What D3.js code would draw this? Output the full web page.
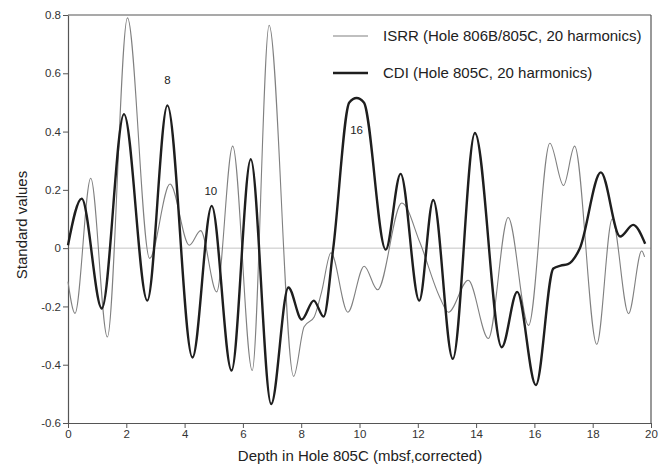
<!DOCTYPE html>
<html>
<head>
<meta charset="utf-8">
<script src="https://cdn.jsdelivr.net/npm/d3@7"></script>
<style>
  html, body { margin: 0; padding: 0; background: #fff; }
  svg { display: block; font-family: "Liberation Sans", Arial, Helvetica, sans-serif; }
</style>
</head>
<body>
<svg id="chart" width="672" height="466"></svg>
<script>
// ---- data ----
const isrrDepth = [0, 0.24, 0.78, 1.35, 2.04, 2.80, 3.50, 4.16, 4.55, 5.10, 5.65, 6.32, 6.90, 7.74, 8.10, 8.45, 8.70, 9.02, 9.60, 10.16, 10.62, 11.45, 12.07, 12.76, 13.05, 13.73, 14.42, 15.10, 15.80, 16.53, 17.00, 17.38, 18.14, 18.67, 19.23, 19.68, 19.78];
const isrrValue = [-0.115, -0.224, 0.24, -0.305, 0.79, -0.035, 0.22, 0.01, 0.06, -0.15, 0.35, -0.42, 0.765, -0.44, -0.27, -0.235, -0.15, -0.016, -0.22, -0.062, -0.143, 0.155, 0.02, -0.17, -0.22, -0.11, -0.31, 0.105, -0.265, 0.36, 0.215, 0.35, -0.33, 0.10, -0.225, -0.01, -0.03];

const cdiDepth = [0, 0.47, 1.16, 1.92, 2.72, 3.41, 4.27, 4.93, 5.61, 6.27, 6.97, 7.56, 8.02, 8.43, 8.77, 9.10, 9.65, 9.90, 10.15, 10.90, 11.41, 12.05, 12.53, 13.20, 13.96, 14.88, 15.41, 16.05, 16.65, 16.90, 17.15, 17.56, 18.28, 18.94, 19.39, 19.80];
const cdiValue = [0.01, 0.17, -0.207, 0.46, -0.18, 0.49, -0.375, 0.145, -0.42, 0.305, -0.535, -0.135, -0.245, -0.18, -0.235, 0.0, 0.50, 0.515, 0.50, -0.005, 0.255, -0.18, 0.165, -0.38, 0.395, -0.34, -0.15, -0.47, -0.07, -0.06, -0.055, 0.0, 0.26, 0.04, 0.08, 0.015];

const xTicks = [0, 2, 4, 6, 8, 10, 12, 14, 16, 18, 20];
const yTicks = [-0.6, -0.4, -0.2, 0, 0.2, 0.4, 0.6, 0.8];
const yTickLabels = ["-0.6", "-0.4", "-0.2", "0", "0.2", "0.4", "0.6", "0.8"];

const seriesNames = ["ISRR (Hole 806B/805C, 20 harmonics)", "CDI (Hole 805C, 20 harmonics)"];
const annotations = [
  { text: "8", depth: 3.41, value: 0.563 },
  { text: "10", depth: 4.9, value: 0.182 },
  { text: "16", depth: 9.9, value: 0.392 }
];

// ---- layout ----
const W = 672, H = 466;
const margin = { left: 68, right: 21, top: 15, bottom: 43 };
const svg = d3.select("#chart");
const iw = W - margin.left - margin.right;
const ih = H - margin.top - margin.bottom;

const x = d3.scaleLinear().domain([0, 20]).range([margin.left, margin.left + iw]);
const y = d3.scaleLinear().domain([-0.6, 0.8]).range([margin.top + ih, margin.top]);

const axisColor = "#555";

// zero line
svg.append("line")
  .attr("x1", x(0)).attr("x2", x(20))
  .attr("y1", y(0)).attr("y2", y(0))
  .attr("stroke", "#c4c4c4").attr("stroke-width", 1);

// frame (top & right)
svg.append("line").attr("x1", x(0)).attr("x2", x(20)).attr("y1", y(0.8)).attr("y2", y(0.8))
  .attr("stroke", axisColor).attr("stroke-width", 1.2);
svg.append("line").attr("x1", x(20)).attr("x2", x(20)).attr("y1", y(0.8)).attr("y2", y(-0.6))
  .attr("stroke", axisColor).attr("stroke-width", 1.2);

// x axis
const xAxis = svg.append("g")
  .attr("transform", `translate(0,${y(-0.6)})`)
  .call(d3.axisBottom(x).tickValues(xTicks).tickFormat(d3.format("d")).tickSizeInner(5).tickSizeOuter(0).tickPadding(2));
xAxis.select(".domain").attr("stroke", axisColor).attr("stroke-width", 1.2);
xAxis.selectAll(".tick line").attr("stroke", axisColor);
xAxis.selectAll(".tick text").attr("font-size", 11.5).attr("fill", "#333");

// y axis
const yAxis = svg.append("g")
  .attr("transform", `translate(${x(0)},0)`)
  .call(d3.axisLeft(y).tickValues(yTicks).tickFormat((d, i) => yTickLabels[i]).tickSizeInner(5).tickSizeOuter(0).tickPadding(2));
yAxis.select(".domain").attr("stroke", axisColor).attr("stroke-width", 1.2);
yAxis.selectAll(".tick line").attr("stroke", axisColor);
yAxis.selectAll(".tick text").attr("font-size", 11.5).attr("fill", "#333");

// axis titles
svg.append("text")
  .attr("x", 360).attr("y", 461)
  .attr("text-anchor", "middle")
  .attr("font-size", 15).attr("fill", "#222")
  .text("Depth in Hole 805C (mbsf,corrected)");
svg.append("text")
  .attr("transform", `translate(27,225) rotate(-90)`)
  .attr("text-anchor", "middle")
  .attr("font-size", 15).attr("fill", "#222")
  .text("Standard values");

// lines
const line = d3.line().curve(d3.curveMonotoneX).x(d => x(d[0])).y(d => y(d[1]));
const isrr = isrrDepth.map((d, i) => [d, isrrValue[i]]);
const cdi = cdiDepth.map((d, i) => [d, cdiValue[i]]);

svg.append("path").datum(isrr).attr("d", line)
  .attr("fill", "none").attr("stroke", "#808080").attr("stroke-width", 1.1);
svg.append("path").datum(cdi).attr("d", line)
  .attr("fill", "none").attr("stroke", "#1e1e1e").attr("stroke-width", 2.4);

// annotations
svg.selectAll(".ann").data(annotations).enter().append("text")
  .attr("x", d => x(d.depth)).attr("y", d => y(d.value))
  .attr("text-anchor", "middle").attr("font-size", 11.5).attr("fill", "#222")
  .text(d => d.text);

// legend
const legend = svg.append("g");
const legendY = [36, 73];
const legendStyle = [{ c: "#808080", w: 1.1 }, { c: "#1e1e1e", w: 2.4 }];
seriesNames.forEach((name, i) => {
  legend.append("line").attr("x1", 333).attr("x2", 368).attr("y1", legendY[i]).attr("y2", legendY[i])
    .attr("stroke", legendStyle[i].c).attr("stroke-width", legendStyle[i].w);
  legend.append("text").attr("x", 383).attr("y", legendY[i] + 5)
    .attr("font-size", 15).attr("fill", "#222").text(name);
});
</script>
</body>
</html>
